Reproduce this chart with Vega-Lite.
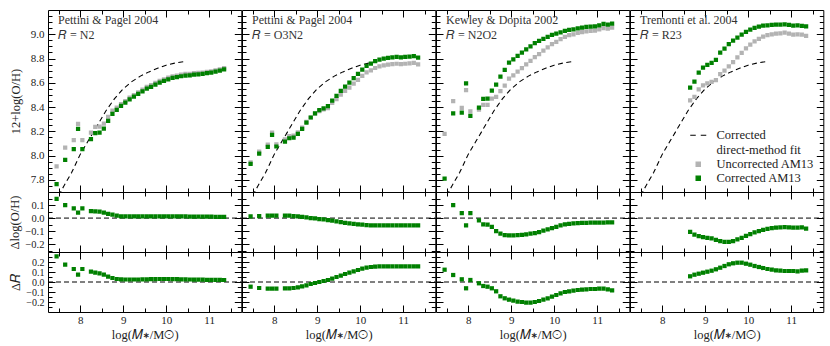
{
"$schema": "https://vega.github.io/schema/vega-lite/v6.json",
"padding": {"left": 8, "top": 9, "right": 6, "bottom": 4},
"config": {
 "view": {"stroke": "black", "strokeWidth": 1},
 "axis": {"domainColor": "black", "domainWidth": 1, "tickColor": "black", "tickWidth": 1, "labelFont": "Liberation Serif", "labelFontSize": 11, "labelColor": "#222", "titleFont": "Liberation Serif", "titleFontSize": 12.5, "titleFontWeight": "normal", "titleColor": "#222", "grid": false, "labelOverlap": false, "labelFlush": false, "labelBound": false},
 "title": {"font": "Liberation Serif", "fontSize": 12, "fontWeight": "normal", "color": "#333", "subtitleFont": "Liberation Serif", "subtitleFontSize": 12, "subtitleColor": "#333", "subtitlePadding": 0}
},
"datasets": {
 "fit": [{"m":7.5,"oh":7.67},{"m":7.62,"oh":7.75},{"m":7.8,"oh":7.86},{"m":8.0,"oh":8.01},{"m":8.2,"oh":8.13},{"m":8.4,"oh":8.25},{"m":8.6,"oh":8.37},{"m":8.8,"oh":8.47},{"m":9.0,"oh":8.55},{"m":9.2,"oh":8.61},{"m":9.4,"oh":8.655},{"m":9.6,"oh":8.69},{"m":9.8,"oh":8.72},{"m":10.0,"oh":8.745},{"m":10.2,"oh":8.762},{"m":10.42,"oh":8.775}],
 "blank": [{}],
 "pp04n2": [
{"m":7.45,"c":7.764,"u":7.912,"doh":0.148,"dr":0.257},
{"m":7.65,"c":7.965,"u":8.065,"doh":0.100,"dr":0.173},
{"m":7.85,"c":8.053,"u":8.127,"doh":0.074,"dr":0.130},
{"m":7.95,"c":8.220,"u":8.261,"doh":0.041,"dr":0.073},
{"m":8.05,"c":8.053,"u":8.127,"doh":0.074,"dr":0.130},
{"m":8.25,"c":8.135,"u":8.189,"doh":0.054,"dr":0.103},
{"m":8.35,"c":8.185,"u":8.236,"doh":0.051,"dr":0.093},
{"m":8.45,"c":8.190,"u":8.239,"doh":0.049,"dr":0.087},
{"m":8.55,"c":8.223,"u":8.264,"doh":0.041,"dr":0.073},
{"m":8.65,"c":8.286,"u":8.319,"doh":0.033,"dr":0.053},
{"m":8.75,"c":8.344,"u":8.370,"doh":0.026,"dr":0.040},
{"m":8.85,"c":8.377,"u":8.395,"doh":0.018,"dr":0.030},
{"m":8.95,"c":8.410,"u":8.424,"doh":0.014,"dr":0.027},
{"m":9.05,"c":8.437,"u":8.450,"doh":0.013,"dr":0.025},
{"m":9.15,"c":8.464,"u":8.477,"doh":0.013,"dr":0.025},
{"m":9.25,"c":8.486,"u":8.499,"doh":0.013,"dr":0.025},
{"m":9.35,"c":8.508,"u":8.521,"doh":0.013,"dr":0.025},
{"m":9.45,"c":8.530,"u":8.544,"doh":0.014,"dr":0.026},
{"m":9.55,"c":8.552,"u":8.566,"doh":0.014,"dr":0.027},
{"m":9.65,"c":8.566,"u":8.580,"doh":0.014,"dr":0.028},
{"m":9.75,"c":8.585,"u":8.599,"doh":0.014,"dr":0.029},
{"m":9.85,"c":8.602,"u":8.616,"doh":0.014,"dr":0.030},
{"m":9.95,"c":8.615,"u":8.629,"doh":0.014,"dr":0.030},
{"m":10.05,"c":8.629,"u":8.643,"doh":0.014,"dr":0.030},
{"m":10.15,"c":8.640,"u":8.654,"doh":0.014,"dr":0.029},
{"m":10.25,"c":8.646,"u":8.659,"doh":0.013,"dr":0.028},
{"m":10.35,"c":8.654,"u":8.667,"doh":0.013,"dr":0.027},
{"m":10.45,"c":8.660,"u":8.673,"doh":0.013,"dr":0.026},
{"m":10.55,"c":8.662,"u":8.674,"doh":0.012,"dr":0.025},
{"m":10.65,"c":8.668,"u":8.680,"doh":0.012,"dr":0.024},
{"m":10.75,"c":8.670,"u":8.682,"doh":0.012,"dr":0.023},
{"m":10.85,"c":8.673,"u":8.684,"doh":0.011,"dr":0.023},
{"m":10.95,"c":8.679,"u":8.690,"doh":0.011,"dr":0.022},
{"m":11.05,"c":8.684,"u":8.695,"doh":0.011,"dr":0.022},
{"m":11.15,"c":8.692,"u":8.702,"doh":0.010,"dr":0.021},
{"m":11.25,"c":8.700,"u":8.710,"doh":0.010,"dr":0.021},
{"m":11.35,"c":8.711,"u":8.721,"doh":0.010,"dr":0.020}],
 "pp04o3n2": [
{"m":7.45,"c":7.932,"u":7.945,"doh":0.013,"dr":-0.047},
{"m":7.65,"c":8.017,"u":8.032,"doh":0.015,"dr":-0.060},
{"m":7.85,"c":8.072,"u":8.090,"doh":0.018,"dr":-0.067},
{"m":7.95,"c":8.171,"u":8.189,"doh":0.018,"dr":-0.067},
{"m":8.05,"c":8.075,"u":8.093,"doh":0.018,"dr":-0.067},
{"m":8.25,"c":8.116,"u":8.134,"doh":0.018,"dr":-0.063},
{"m":8.35,"c":8.143,"u":8.161,"doh":0.018,"dr":-0.063},
{"m":8.45,"c":8.149,"u":8.164,"doh":0.015,"dr":-0.060},
{"m":8.55,"c":8.179,"u":8.192,"doh":0.013,"dr":-0.053},
{"m":8.65,"c":8.220,"u":8.230,"doh":0.010,"dr":-0.043},
{"m":8.75,"c":8.272,"u":8.277,"doh":0.005,"dr":-0.033},
{"m":8.85,"c":8.314,"u":8.314,"doh":0.000,"dr":-0.020},
{"m":8.95,"c":8.349,"u":8.346,"doh":-0.003,"dr":-0.010},
{"m":9.05,"c":8.374,"u":8.366,"doh":-0.008,"dr":0.000},
{"m":9.15,"c":8.390,"u":8.380,"doh":-0.010,"dr":0.010},
{"m":9.25,"c":8.407,"u":8.392,"doh":-0.015,"dr":0.020},
{"m":9.35,"c":8.454,"u":8.434,"doh":-0.020,"dr":0.033},
{"m":9.45,"c":8.492,"u":8.466,"doh":-0.026,"dr":0.050},
{"m":9.55,"c":8.533,"u":8.502,"doh":-0.031,"dr":0.063},
{"m":9.65,"c":8.569,"u":8.533,"doh":-0.036,"dr":0.080},
{"m":9.75,"c":8.602,"u":8.561,"doh":-0.041,"dr":0.093},
{"m":9.85,"c":8.638,"u":8.594,"doh":-0.044,"dr":0.107},
{"m":9.95,"c":8.673,"u":8.624,"doh":-0.049,"dr":0.120},
{"m":10.05,"c":8.709,"u":8.658,"doh":-0.051,"dr":0.133},
{"m":10.15,"c":8.739,"u":8.685,"doh":-0.054,"dr":0.143},
{"m":10.25,"c":8.758,"u":8.703,"doh":-0.055,"dr":0.150},
{"m":10.35,"c":8.778,"u":8.722,"doh":-0.056,"dr":0.153},
{"m":10.45,"c":8.791,"u":8.735,"doh":-0.056,"dr":0.156},
{"m":10.55,"c":8.800,"u":8.744,"doh":-0.056,"dr":0.157},
{"m":10.65,"c":8.805,"u":8.749,"doh":-0.056,"dr":0.157},
{"m":10.75,"c":8.810,"u":8.754,"doh":-0.056,"dr":0.157},
{"m":10.85,"c":8.813,"u":8.757,"doh":-0.056,"dr":0.157},
{"m":10.95,"c":8.810,"u":8.754,"doh":-0.056,"dr":0.157},
{"m":11.05,"c":8.813,"u":8.757,"doh":-0.056,"dr":0.157},
{"m":11.15,"c":8.816,"u":8.760,"doh":-0.056,"dr":0.157},
{"m":11.25,"c":8.820,"u":8.764,"doh":-0.056,"dr":0.157},
{"m":11.35,"c":8.808,"u":8.752,"doh":-0.056,"dr":0.157}],
 "kd02": [
{"m":7.45,"c":7.811,"u":8.179,"doh":0.368,"dr":0.123},
{"m":7.65,"c":8.349,"u":8.449,"doh":0.100,"dr":0.070},
{"m":7.85,"c":8.355,"u":8.393,"doh":0.038,"dr":0.027},
{"m":7.95,"c":8.596,"u":8.540,"doh":-0.056,"dr":-0.063},
{"m":8.05,"c":8.327,"u":8.365,"doh":0.038,"dr":0.020},
{"m":8.25,"c":8.396,"u":8.378,"doh":-0.018,"dr":-0.013},
{"m":8.35,"c":8.467,"u":8.418,"doh":-0.049,"dr":-0.040},
{"m":8.45,"c":8.470,"u":8.419,"doh":-0.051,"dr":-0.047},
{"m":8.55,"c":8.536,"u":8.469,"doh":-0.067,"dr":-0.063},
{"m":8.65,"c":8.585,"u":8.485,"doh":-0.100,"dr":-0.093},
{"m":8.75,"c":8.651,"u":8.531,"doh":-0.120,"dr":-0.143},
{"m":8.85,"c":8.706,"u":8.576,"doh":-0.130,"dr":-0.163},
{"m":8.95,"c":8.767,"u":8.634,"doh":-0.133,"dr":-0.177},
{"m":9.05,"c":8.794,"u":8.661,"doh":-0.133,"dr":-0.187},
{"m":9.15,"c":8.822,"u":8.692,"doh":-0.130,"dr":-0.197},
{"m":9.25,"c":8.849,"u":8.721,"doh":-0.128,"dr":-0.200},
{"m":9.35,"c":8.876,"u":8.751,"doh":-0.125,"dr":-0.207},
{"m":9.45,"c":8.901,"u":8.781,"doh":-0.120,"dr":-0.207},
{"m":9.55,"c":8.926,"u":8.811,"doh":-0.115,"dr":-0.200},
{"m":9.65,"c":8.945,"u":8.837,"doh":-0.108,"dr":-0.190},
{"m":9.75,"c":8.962,"u":8.865,"doh":-0.097,"dr":-0.177},
{"m":9.85,"c":8.978,"u":8.891,"doh":-0.087,"dr":-0.163},
{"m":9.95,"c":8.995,"u":8.918,"doh":-0.077,"dr":-0.147},
{"m":10.05,"c":9.005,"u":8.938,"doh":-0.067,"dr":-0.130},
{"m":10.15,"c":9.016,"u":8.960,"doh":-0.056,"dr":-0.113},
{"m":10.25,"c":9.027,"u":8.978,"doh":-0.049,"dr":-0.100},
{"m":10.35,"c":9.036,"u":8.992,"doh":-0.044,"dr":-0.093},
{"m":10.45,"c":9.041,"u":9.000,"doh":-0.041,"dr":-0.087},
{"m":10.55,"c":9.049,"u":9.011,"doh":-0.038,"dr":-0.080},
{"m":10.65,"c":9.055,"u":9.018,"doh":-0.037,"dr":-0.077},
{"m":10.75,"c":9.060,"u":9.024,"doh":-0.036,"dr":-0.073},
{"m":10.85,"c":9.063,"u":9.028,"doh":-0.035,"dr":-0.070},
{"m":10.95,"c":9.066,"u":9.031,"doh":-0.035,"dr":-0.070},
{"m":11.05,"c":9.074,"u":9.040,"doh":-0.034,"dr":-0.067},
{"m":11.15,"c":9.085,"u":9.051,"doh":-0.034,"dr":-0.067},
{"m":11.25,"c":9.080,"u":9.047,"doh":-0.033,"dr":-0.073},
{"m":11.35,"c":9.088,"u":9.055,"doh":-0.033,"dr":-0.083}],
 "t04": [
{"m":8.65,"c":8.561,"u":8.456,"doh":-0.105,"dr":0.057},
{"m":8.75,"c":8.610,"u":8.484,"doh":-0.126,"dr":0.073},
{"m":8.85,"c":8.684,"u":8.546,"doh":-0.138,"dr":0.083},
{"m":8.95,"c":8.725,"u":8.579,"doh":-0.146,"dr":0.093},
{"m":9.05,"c":8.747,"u":8.596,"doh":-0.151,"dr":0.103},
{"m":9.15,"c":8.764,"u":8.608,"doh":-0.156,"dr":0.113},
{"m":9.25,"c":8.789,"u":8.622,"doh":-0.167,"dr":0.127},
{"m":9.35,"c":8.849,"u":8.672,"doh":-0.177,"dr":0.143},
{"m":9.45,"c":8.882,"u":8.700,"doh":-0.182,"dr":0.160},
{"m":9.55,"c":8.918,"u":8.736,"doh":-0.182,"dr":0.177},
{"m":9.65,"c":8.948,"u":8.771,"doh":-0.177,"dr":0.187},
{"m":9.75,"c":8.973,"u":8.809,"doh":-0.164,"dr":0.193},
{"m":9.85,"c":8.997,"u":8.846,"doh":-0.151,"dr":0.193},
{"m":9.95,"c":9.019,"u":8.883,"doh":-0.136,"dr":0.183},
{"m":10.05,"c":9.038,"u":8.915,"doh":-0.123,"dr":0.173},
{"m":10.15,"c":9.052,"u":8.942,"doh":-0.110,"dr":0.160},
{"m":10.25,"c":9.063,"u":8.963,"doh":-0.100,"dr":0.150},
{"m":10.35,"c":9.071,"u":8.981,"doh":-0.090,"dr":0.140},
{"m":10.45,"c":9.074,"u":8.992,"doh":-0.082,"dr":0.130},
{"m":10.55,"c":9.077,"u":9.000,"doh":-0.077,"dr":0.123},
{"m":10.65,"c":9.080,"u":9.006,"doh":-0.074,"dr":0.117},
{"m":10.75,"c":9.080,"u":9.008,"doh":-0.072,"dr":0.113},
{"m":10.85,"c":9.082,"u":9.013,"doh":-0.069,"dr":0.110},
{"m":10.95,"c":9.077,"u":9.005,"doh":-0.072,"dr":0.110},
{"m":11.05,"c":9.071,"u":8.997,"doh":-0.074,"dr":0.110},
{"m":11.15,"c":9.074,"u":9.000,"doh":-0.074,"dr":0.107},
{"m":11.25,"c":9.069,"u":8.997,"doh":-0.072,"dr":0.113},
{"m":11.35,"c":9.066,"u":8.986,"doh":-0.080,"dr":0.117}]
},
"columns": 4,
"spacing": 0,
"bounds": "flush",
"align": "each",
"concat": [
{"width":193.3,"height":182,
 "title":{"text":"Pettini & Pagel 2004","subtitle":"𝑅 = N2","anchor":"start","frame":"group","orient":"top","offset":-32.5,"dx":10},
 "layer":[
  {"data":{"name":"fit"},"mark":{"type":"line","color":"black","strokeDash":[5,3.5],"strokeWidth":1.1,"clip":true},
   "encoding":{"x":{"field":"m","type":"quantitative","scale":{"domain":[7.25,11.75],"nice":false,"zero":false},"axis":{"orient":"bottom","values":[8,9,10,11],"tickSize":7,"offset":-7,"domain":false,"labels":false,"title":null}},
    "y":{"field":"oh","type":"quantitative","scale":{"domain":[7.7,9.2],"nice":false,"zero":false},"axis":{"orient":"left","values":[7.8,8.0,8.2,8.4,8.6,8.8,9.0],"tickSize":7,"offset":-7,"domain":false,"labels":false,"title":null}}}},
  {"data":{"name":"pp04n2"},"mark":{"type":"square","size":18,"opacity":1,"color":"#b3b3b3","clip":true},
   "encoding":{"x":{"field":"m","type":"quantitative","scale":{"domain":[7.25,11.75],"nice":false,"zero":false},"axis":{"orient":"bottom","values":[7.5,8.5,9.5,10.5,11.5],"tickSize":4,"offset":-4,"domain":false,"labels":false,"title":null}},
    "y":{"field":"u","type":"quantitative","scale":{"domain":[7.7,9.2],"nice":false,"zero":false},"axis":{"orient":"left","values":[7.75,7.85,7.9,7.95,8.05,8.1,8.15,8.25,8.3,8.35,8.45,8.5,8.55,8.65,8.7,8.75,8.85,8.9,8.95,9.05,9.1,9.15],"tickSize":4,"offset":-4,"domain":false,"labels":false,"title":null}}}},
  {"data":{"name":"pp04n2"},"mark":{"type":"square","size":18,"opacity":1,"color":"#008000","clip":true},
   "encoding":{"x":{"field":"m","type":"quantitative","scale":{"domain":[7.25,11.75],"nice":false,"zero":false},"axis":{"orient":"top","values":[8,9,10,11],"tickSize":7,"offset":-7,"domain":false,"labels":false,"title":null}},
    "y":{"field":"c","type":"quantitative","scale":{"domain":[7.7,9.2],"nice":false,"zero":false},"axis":{"orient":"right","values":[7.8,8.0,8.2,8.4,8.6,8.8,9.0],"tickSize":7,"offset":-7,"domain":false,"labels":false,"title":null}}}},
  {"data":{"name":"blank"},"mark":{"type":"point","opacity":0},
   "encoding":{"x":{"datum":9,"type":"quantitative","scale":{"domain":[7.25,11.75],"nice":false,"zero":false},"axis":{"orient":"top","values":[7.5,8.5,9.5,10.5,11.5],"tickSize":4,"offset":-4,"domain":false,"labels":false,"title":null}},
    "y":{"datum":8.5,"type":"quantitative","scale":{"domain":[7.7,9.2],"nice":false,"zero":false},"axis":{"orient":"right","values":[7.75,7.85,7.9,7.95,8.05,8.1,8.15,8.25,8.3,8.35,8.45,8.5,8.55,8.65,8.7,8.75,8.85,8.9,8.95,9.05,9.1,9.15],"tickSize":4,"offset":-4,"domain":false,"labels":false,"title":null}}}},
  {"data":{"name":"blank"},"mark":{"type":"point","opacity":0},
   "encoding":{"x":{"datum":9,"type":"quantitative","scale":{"domain":[7.25,11.75],"nice":false,"zero":false},"axis":null},
    "y":{"datum":8.5,"type":"quantitative","scale":{"domain":[7.7,9.2],"nice":false,"zero":false},"axis":{"orient":"left","values":[7.8,8.0,8.2,8.4,8.6,8.8,9.0],"ticks":false,"domain":false,"labelPadding":4,"format":".1f","title":"12+log(O/H)","titlePadding":8}}}}
 ],
 "resolve":{"axis":{"x":"independent","y":"independent"}}},
{"width":193.3,"height":182,
 "title":{"text":"Pettini & Pagel 2004","subtitle":"𝑅 = O3N2","anchor":"start","frame":"group","orient":"top","offset":-32.5,"dx":10},
 "layer":[
  {"data":{"name":"fit"},"mark":{"type":"line","color":"black","strokeDash":[5,3.5],"strokeWidth":1.1,"clip":true},
   "encoding":{"x":{"field":"m","type":"quantitative","scale":{"domain":[7.25,11.75],"nice":false,"zero":false},"axis":{"orient":"bottom","values":[8,9,10,11],"tickSize":7,"offset":-7,"domain":false,"labels":false,"title":null}},
    "y":{"field":"oh","type":"quantitative","scale":{"domain":[7.7,9.2],"nice":false,"zero":false},"axis":{"orient":"left","values":[7.8,8.0,8.2,8.4,8.6,8.8,9.0],"tickSize":7,"offset":-7,"domain":false,"labels":false,"title":null}}}},
  {"data":{"name":"pp04o3n2"},"mark":{"type":"square","size":18,"opacity":1,"color":"#b3b3b3","clip":true},
   "encoding":{"x":{"field":"m","type":"quantitative","scale":{"domain":[7.25,11.75],"nice":false,"zero":false},"axis":{"orient":"bottom","values":[7.5,8.5,9.5,10.5,11.5],"tickSize":4,"offset":-4,"domain":false,"labels":false,"title":null}},
    "y":{"field":"u","type":"quantitative","scale":{"domain":[7.7,9.2],"nice":false,"zero":false},"axis":{"orient":"left","values":[7.75,7.85,7.9,7.95,8.05,8.1,8.15,8.25,8.3,8.35,8.45,8.5,8.55,8.65,8.7,8.75,8.85,8.9,8.95,9.05,9.1,9.15],"tickSize":4,"offset":-4,"domain":false,"labels":false,"title":null}}}},
  {"data":{"name":"pp04o3n2"},"mark":{"type":"square","size":18,"opacity":1,"color":"#008000","clip":true},
   "encoding":{"x":{"field":"m","type":"quantitative","scale":{"domain":[7.25,11.75],"nice":false,"zero":false},"axis":{"orient":"top","values":[8,9,10,11],"tickSize":7,"offset":-7,"domain":false,"labels":false,"title":null}},
    "y":{"field":"c","type":"quantitative","scale":{"domain":[7.7,9.2],"nice":false,"zero":false},"axis":{"orient":"right","values":[7.8,8.0,8.2,8.4,8.6,8.8,9.0],"tickSize":7,"offset":-7,"domain":false,"labels":false,"title":null}}}},
  {"data":{"name":"blank"},"mark":{"type":"point","opacity":0},
   "encoding":{"x":{"datum":9,"type":"quantitative","scale":{"domain":[7.25,11.75],"nice":false,"zero":false},"axis":{"orient":"top","values":[7.5,8.5,9.5,10.5,11.5],"tickSize":4,"offset":-4,"domain":false,"labels":false,"title":null}},
    "y":{"datum":8.5,"type":"quantitative","scale":{"domain":[7.7,9.2],"nice":false,"zero":false},"axis":{"orient":"right","values":[7.75,7.85,7.9,7.95,8.05,8.1,8.15,8.25,8.3,8.35,8.45,8.5,8.55,8.65,8.7,8.75,8.85,8.9,8.95,9.05,9.1,9.15],"tickSize":4,"offset":-4,"domain":false,"labels":false,"title":null}}}}
 ],
 "resolve":{"axis":{"x":"independent","y":"independent"}}},
{"width":193.3,"height":182,
 "title":{"text":"Kewley & Dopita 2002","subtitle":"𝑅 = N2O2","anchor":"start","frame":"group","orient":"top","offset":-32.5,"dx":10},
 "layer":[
  {"data":{"name":"fit"},"mark":{"type":"line","color":"black","strokeDash":[5,3.5],"strokeWidth":1.1,"clip":true},
   "encoding":{"x":{"field":"m","type":"quantitative","scale":{"domain":[7.25,11.75],"nice":false,"zero":false},"axis":{"orient":"bottom","values":[8,9,10,11],"tickSize":7,"offset":-7,"domain":false,"labels":false,"title":null}},
    "y":{"field":"oh","type":"quantitative","scale":{"domain":[7.7,9.2],"nice":false,"zero":false},"axis":{"orient":"left","values":[7.8,8.0,8.2,8.4,8.6,8.8,9.0],"tickSize":7,"offset":-7,"domain":false,"labels":false,"title":null}}}},
  {"data":{"name":"kd02"},"mark":{"type":"square","size":18,"opacity":1,"color":"#b3b3b3","clip":true},
   "encoding":{"x":{"field":"m","type":"quantitative","scale":{"domain":[7.25,11.75],"nice":false,"zero":false},"axis":{"orient":"bottom","values":[7.5,8.5,9.5,10.5,11.5],"tickSize":4,"offset":-4,"domain":false,"labels":false,"title":null}},
    "y":{"field":"u","type":"quantitative","scale":{"domain":[7.7,9.2],"nice":false,"zero":false},"axis":{"orient":"left","values":[7.75,7.85,7.9,7.95,8.05,8.1,8.15,8.25,8.3,8.35,8.45,8.5,8.55,8.65,8.7,8.75,8.85,8.9,8.95,9.05,9.1,9.15],"tickSize":4,"offset":-4,"domain":false,"labels":false,"title":null}}}},
  {"data":{"name":"kd02"},"mark":{"type":"square","size":18,"opacity":1,"color":"#008000","clip":true},
   "encoding":{"x":{"field":"m","type":"quantitative","scale":{"domain":[7.25,11.75],"nice":false,"zero":false},"axis":{"orient":"top","values":[8,9,10,11],"tickSize":7,"offset":-7,"domain":false,"labels":false,"title":null}},
    "y":{"field":"c","type":"quantitative","scale":{"domain":[7.7,9.2],"nice":false,"zero":false},"axis":{"orient":"right","values":[7.8,8.0,8.2,8.4,8.6,8.8,9.0],"tickSize":7,"offset":-7,"domain":false,"labels":false,"title":null}}}},
  {"data":{"name":"blank"},"mark":{"type":"point","opacity":0},
   "encoding":{"x":{"datum":9,"type":"quantitative","scale":{"domain":[7.25,11.75],"nice":false,"zero":false},"axis":{"orient":"top","values":[7.5,8.5,9.5,10.5,11.5],"tickSize":4,"offset":-4,"domain":false,"labels":false,"title":null}},
    "y":{"datum":8.5,"type":"quantitative","scale":{"domain":[7.7,9.2],"nice":false,"zero":false},"axis":{"orient":"right","values":[7.75,7.85,7.9,7.95,8.05,8.1,8.15,8.25,8.3,8.35,8.45,8.5,8.55,8.65,8.7,8.75,8.85,8.9,8.95,9.05,9.1,9.15],"tickSize":4,"offset":-4,"domain":false,"labels":false,"title":null}}}}
 ],
 "resolve":{"axis":{"x":"independent","y":"independent"}}},
{"width":193.3,"height":182,
 "title":{"text":"Tremonti et al. 2004","subtitle":"𝑅 = R23","anchor":"start","frame":"group","orient":"top","offset":-32.5,"dx":10},
 "layer":[
  {"data":{"name":"fit"},"mark":{"type":"line","strokeDash":[5,3.5],"strokeWidth":1.1,"clip":true},
   "encoding":{"x":{"field":"m","type":"quantitative","scale":{"domain":[7.25,11.75],"nice":false,"zero":false},"axis":{"orient":"bottom","values":[8,9,10,11],"tickSize":7,"offset":-7,"domain":false,"labels":false,"title":null}},
    "y":{"field":"oh","type":"quantitative","scale":{"domain":[7.7,9.2],"nice":false,"zero":false},"axis":{"orient":"left","values":[7.8,8.0,8.2,8.4,8.6,8.8,9.0],"tickSize":7,"offset":-7,"domain":false,"labels":false,"title":null}},
    "color":{"datum":"Corrected direct-method fit","scale":{"domain":["Corrected direct-method fit","Uncorrected AM13","Corrected AM13"],"range":["black","#b3b3b3","#008000"]},
     "legend":{"orient":"none","legendX":644,"legendY":119,"title":null,"padding":0,"labelFont":"Liberation Serif","labelFontSize":12.5,"labelColor":"#222","labelOffset":12,"labelLimit":300,"rowPadding":1,"symbolSize":100,"symbolStrokeWidth":1.2,
      "labelExpr":"datum.label === 'Corrected direct-method fit' ? ['Corrected', 'direct-method fit'] : datum.label",
      "encode":{"symbols":{"update":{"shape":{"signal":"datum.value === 'Corrected direct-method fit' ? 'M-1.6,0H-0.5M0.5,0H1.6' : 'M-0.43,-0.43H0.43V0.43H-0.43Z'"},"fill":{"signal":"datum.value === 'Uncorrected AM13' ? '#b3b3b3' : (datum.value === 'Corrected AM13' ? '#008000' : 'transparent')"},"stroke":{"signal":"datum.value === 'Corrected direct-method fit' ? 'black' : 'transparent'"},"strokeDash":{"value":[]},"opacity":{"value":1}}}}}}}},
  {"data":{"name":"t04"},"mark":{"type":"square","size":18,"opacity":1,"clip":true},
   "encoding":{"x":{"field":"m","type":"quantitative","scale":{"domain":[7.25,11.75],"nice":false,"zero":false},"axis":{"orient":"bottom","values":[7.5,8.5,9.5,10.5,11.5],"tickSize":4,"offset":-4,"domain":false,"labels":false,"title":null}},
    "y":{"field":"u","type":"quantitative","scale":{"domain":[7.7,9.2],"nice":false,"zero":false},"axis":{"orient":"left","values":[7.75,7.85,7.9,7.95,8.05,8.1,8.15,8.25,8.3,8.35,8.45,8.5,8.55,8.65,8.7,8.75,8.85,8.9,8.95,9.05,9.1,9.15],"tickSize":4,"offset":-4,"domain":false,"labels":false,"title":null}},
    "color":{"datum":"Uncorrected AM13"}}},
  {"data":{"name":"t04"},"mark":{"type":"square","size":18,"opacity":1,"clip":true},
   "encoding":{"x":{"field":"m","type":"quantitative","scale":{"domain":[7.25,11.75],"nice":false,"zero":false},"axis":{"orient":"top","values":[8,9,10,11],"tickSize":7,"offset":-7,"domain":false,"labels":false,"title":null}},
    "y":{"field":"c","type":"quantitative","scale":{"domain":[7.7,9.2],"nice":false,"zero":false},"axis":{"orient":"right","values":[7.8,8.0,8.2,8.4,8.6,8.8,9.0],"tickSize":7,"offset":-7,"domain":false,"labels":false,"title":null}},
    "color":{"datum":"Corrected AM13"}}},
  {"data":{"name":"blank"},"mark":{"type":"point","opacity":0},
   "encoding":{"x":{"datum":9,"type":"quantitative","scale":{"domain":[7.25,11.75],"nice":false,"zero":false},"axis":{"orient":"top","values":[7.5,8.5,9.5,10.5,11.5],"tickSize":4,"offset":-4,"domain":false,"labels":false,"title":null}},
    "y":{"datum":8.5,"type":"quantitative","scale":{"domain":[7.7,9.2],"nice":false,"zero":false},"axis":{"orient":"right","values":[7.75,7.85,7.9,7.95,8.05,8.1,8.15,8.25,8.3,8.35,8.45,8.5,8.55,8.65,8.7,8.75,8.85,8.9,8.95,9.05,9.1,9.15],"tickSize":4,"offset":-4,"domain":false,"labels":false,"title":null}}}}
 ],
 "resolve":{"axis":{"x":"independent","y":"independent"}}},

{"width":193.3,"height":60,
 "layer":[
  {"data":{"name":"blank"},"mark":{"type":"rule","color":"black","strokeDash":[5,3],"strokeWidth":1},
   "encoding":{"x":{"datum":7.25,"type":"quantitative","scale":{"domain":[7.25,11.75],"nice":false,"zero":false},"axis":{"orient":"top","values":[8,9,10,11],"tickSize":7,"offset":-7,"domain":false,"labels":false,"title":null}},"x2":{"datum":11.75},
    "y":{"datum":0,"type":"quantitative","scale":{"domain":[-0.26,0.2],"nice":false,"zero":false},"axis":{"orient":"left","values":[-0.2,-0.1,0,0.1],"tickSize":7,"offset":-7,"domain":false,"labels":false,"title":null}}}},
  {"data":{"name":"pp04n2"},"mark":{"type":"square","size":18,"opacity":1,"color":"#008000","clip":true},
   "encoding":{"x":{"field":"m","type":"quantitative","scale":{"domain":[7.25,11.75],"nice":false,"zero":false},"axis":{"orient":"bottom","values":[8,9,10,11],"tickSize":7,"offset":-7,"domain":false,"labels":false,"title":null}},
    "y":{"field":"doh","type":"quantitative","scale":{"domain":[-0.26,0.2],"nice":false,"zero":false},"axis":{"orient":"right","values":[-0.2,-0.1,0,0.1],"tickSize":7,"offset":-7,"domain":false,"labels":false,"title":null}}}},
  {"data":{"name":"blank"},"mark":{"type":"point","opacity":0},
   "encoding":{"x":{"datum":9,"type":"quantitative","scale":{"domain":[7.25,11.75],"nice":false,"zero":false},"axis":{"orient":"bottom","values":[7.5,8.5,9.5,10.5,11.5],"tickSize":4,"offset":-4,"domain":false,"labels":false,"title":null}},
    "y":{"datum":0,"type":"quantitative","scale":{"domain":[-0.26,0.2],"nice":false,"zero":false},"axis":{"orient":"left","values":[-0.25,-0.15,-0.05,0.05,0.15],"tickSize":4,"offset":-4,"domain":false,"labels":false,"title":null}}}},
  {"data":{"name":"blank"},"mark":{"type":"point","opacity":0},
   "encoding":{"x":{"datum":9,"type":"quantitative","scale":{"domain":[7.25,11.75],"nice":false,"zero":false},"axis":{"orient":"top","values":[7.5,8.5,9.5,10.5,11.5],"tickSize":4,"offset":-4,"domain":false,"labels":false,"title":null}},
    "y":{"datum":0,"type":"quantitative","scale":{"domain":[-0.26,0.2],"nice":false,"zero":false},"axis":{"orient":"right","values":[-0.25,-0.15,-0.05,0.05,0.15],"tickSize":4,"offset":-4,"domain":false,"labels":false,"title":null}}}},
  {"data":{"name":"blank"},"mark":{"type":"point","opacity":0},
   "encoding":{"x":{"datum":9,"type":"quantitative","scale":{"domain":[7.25,11.75],"nice":false,"zero":false},"axis":null},
    "y":{"datum":0,"type":"quantitative","scale":{"domain":[-0.26,0.2],"nice":false,"zero":false},"axis":{"orient":"left","values":[-0.2,-0.1,0,0.1],"ticks":false,"domain":false,"labelPadding":4,"labelFontSize":10.5,"format":".1f","title":"Δlog(O/H)","titlePadding":3}}}}
 ],
 "resolve":{"axis":{"x":"independent","y":"independent"}}},
{"width":193.3,"height":60,
 "layer":[
  {"data":{"name":"blank"},"mark":{"type":"rule","color":"black","strokeDash":[5,3],"strokeWidth":1},
   "encoding":{"x":{"datum":7.25,"type":"quantitative","scale":{"domain":[7.25,11.75],"nice":false,"zero":false},"axis":{"orient":"top","values":[8,9,10,11],"tickSize":7,"offset":-7,"domain":false,"labels":false,"title":null}},"x2":{"datum":11.75},
    "y":{"datum":0,"type":"quantitative","scale":{"domain":[-0.26,0.2],"nice":false,"zero":false},"axis":{"orient":"left","values":[-0.2,-0.1,0,0.1],"tickSize":7,"offset":-7,"domain":false,"labels":false,"title":null}}}},
  {"data":{"name":"pp04o3n2"},"mark":{"type":"square","size":18,"opacity":1,"color":"#008000","clip":true},
   "encoding":{"x":{"field":"m","type":"quantitative","scale":{"domain":[7.25,11.75],"nice":false,"zero":false},"axis":{"orient":"bottom","values":[8,9,10,11],"tickSize":7,"offset":-7,"domain":false,"labels":false,"title":null}},
    "y":{"field":"doh","type":"quantitative","scale":{"domain":[-0.26,0.2],"nice":false,"zero":false},"axis":{"orient":"right","values":[-0.2,-0.1,0,0.1],"tickSize":7,"offset":-7,"domain":false,"labels":false,"title":null}}}},
  {"data":{"name":"blank"},"mark":{"type":"point","opacity":0},
   "encoding":{"x":{"datum":9,"type":"quantitative","scale":{"domain":[7.25,11.75],"nice":false,"zero":false},"axis":{"orient":"bottom","values":[7.5,8.5,9.5,10.5,11.5],"tickSize":4,"offset":-4,"domain":false,"labels":false,"title":null}},
    "y":{"datum":0,"type":"quantitative","scale":{"domain":[-0.26,0.2],"nice":false,"zero":false},"axis":{"orient":"left","values":[-0.25,-0.15,-0.05,0.05,0.15],"tickSize":4,"offset":-4,"domain":false,"labels":false,"title":null}}}},
  {"data":{"name":"blank"},"mark":{"type":"point","opacity":0},
   "encoding":{"x":{"datum":9,"type":"quantitative","scale":{"domain":[7.25,11.75],"nice":false,"zero":false},"axis":{"orient":"top","values":[7.5,8.5,9.5,10.5,11.5],"tickSize":4,"offset":-4,"domain":false,"labels":false,"title":null}},
    "y":{"datum":0,"type":"quantitative","scale":{"domain":[-0.26,0.2],"nice":false,"zero":false},"axis":{"orient":"right","values":[-0.25,-0.15,-0.05,0.05,0.15],"tickSize":4,"offset":-4,"domain":false,"labels":false,"title":null}}}}
 ],
 "resolve":{"axis":{"x":"independent","y":"independent"}}},
{"width":193.3,"height":60,
 "layer":[
  {"data":{"name":"blank"},"mark":{"type":"rule","color":"black","strokeDash":[5,3],"strokeWidth":1},
   "encoding":{"x":{"datum":7.25,"type":"quantitative","scale":{"domain":[7.25,11.75],"nice":false,"zero":false},"axis":{"orient":"top","values":[8,9,10,11],"tickSize":7,"offset":-7,"domain":false,"labels":false,"title":null}},"x2":{"datum":11.75},
    "y":{"datum":0,"type":"quantitative","scale":{"domain":[-0.26,0.2],"nice":false,"zero":false},"axis":{"orient":"left","values":[-0.2,-0.1,0,0.1],"tickSize":7,"offset":-7,"domain":false,"labels":false,"title":null}}}},
  {"data":{"name":"kd02"},"mark":{"type":"square","size":18,"opacity":1,"color":"#008000","clip":true},
   "encoding":{"x":{"field":"m","type":"quantitative","scale":{"domain":[7.25,11.75],"nice":false,"zero":false},"axis":{"orient":"bottom","values":[8,9,10,11],"tickSize":7,"offset":-7,"domain":false,"labels":false,"title":null}},
    "y":{"field":"doh","type":"quantitative","scale":{"domain":[-0.26,0.2],"nice":false,"zero":false},"axis":{"orient":"right","values":[-0.2,-0.1,0,0.1],"tickSize":7,"offset":-7,"domain":false,"labels":false,"title":null}}}},
  {"data":{"name":"blank"},"mark":{"type":"point","opacity":0},
   "encoding":{"x":{"datum":9,"type":"quantitative","scale":{"domain":[7.25,11.75],"nice":false,"zero":false},"axis":{"orient":"bottom","values":[7.5,8.5,9.5,10.5,11.5],"tickSize":4,"offset":-4,"domain":false,"labels":false,"title":null}},
    "y":{"datum":0,"type":"quantitative","scale":{"domain":[-0.26,0.2],"nice":false,"zero":false},"axis":{"orient":"left","values":[-0.25,-0.15,-0.05,0.05,0.15],"tickSize":4,"offset":-4,"domain":false,"labels":false,"title":null}}}},
  {"data":{"name":"blank"},"mark":{"type":"point","opacity":0},
   "encoding":{"x":{"datum":9,"type":"quantitative","scale":{"domain":[7.25,11.75],"nice":false,"zero":false},"axis":{"orient":"top","values":[7.5,8.5,9.5,10.5,11.5],"tickSize":4,"offset":-4,"domain":false,"labels":false,"title":null}},
    "y":{"datum":0,"type":"quantitative","scale":{"domain":[-0.26,0.2],"nice":false,"zero":false},"axis":{"orient":"right","values":[-0.25,-0.15,-0.05,0.05,0.15],"tickSize":4,"offset":-4,"domain":false,"labels":false,"title":null}}}}
 ],
 "resolve":{"axis":{"x":"independent","y":"independent"}}},
{"width":193.3,"height":60,
 "layer":[
  {"data":{"name":"blank"},"mark":{"type":"rule","color":"black","strokeDash":[5,3],"strokeWidth":1},
   "encoding":{"x":{"datum":7.25,"type":"quantitative","scale":{"domain":[7.25,11.75],"nice":false,"zero":false},"axis":{"orient":"top","values":[8,9,10,11],"tickSize":7,"offset":-7,"domain":false,"labels":false,"title":null}},"x2":{"datum":11.75},
    "y":{"datum":0,"type":"quantitative","scale":{"domain":[-0.26,0.2],"nice":false,"zero":false},"axis":{"orient":"left","values":[-0.2,-0.1,0,0.1],"tickSize":7,"offset":-7,"domain":false,"labels":false,"title":null}}}},
  {"data":{"name":"t04"},"mark":{"type":"square","size":18,"opacity":1,"color":"#008000","clip":true},
   "encoding":{"x":{"field":"m","type":"quantitative","scale":{"domain":[7.25,11.75],"nice":false,"zero":false},"axis":{"orient":"bottom","values":[8,9,10,11],"tickSize":7,"offset":-7,"domain":false,"labels":false,"title":null}},
    "y":{"field":"doh","type":"quantitative","scale":{"domain":[-0.26,0.2],"nice":false,"zero":false},"axis":{"orient":"right","values":[-0.2,-0.1,0,0.1],"tickSize":7,"offset":-7,"domain":false,"labels":false,"title":null}}}},
  {"data":{"name":"blank"},"mark":{"type":"point","opacity":0},
   "encoding":{"x":{"datum":9,"type":"quantitative","scale":{"domain":[7.25,11.75],"nice":false,"zero":false},"axis":{"orient":"bottom","values":[7.5,8.5,9.5,10.5,11.5],"tickSize":4,"offset":-4,"domain":false,"labels":false,"title":null}},
    "y":{"datum":0,"type":"quantitative","scale":{"domain":[-0.26,0.2],"nice":false,"zero":false},"axis":{"orient":"left","values":[-0.25,-0.15,-0.05,0.05,0.15],"tickSize":4,"offset":-4,"domain":false,"labels":false,"title":null}}}},
  {"data":{"name":"blank"},"mark":{"type":"point","opacity":0},
   "encoding":{"x":{"datum":9,"type":"quantitative","scale":{"domain":[7.25,11.75],"nice":false,"zero":false},"axis":{"orient":"top","values":[7.5,8.5,9.5,10.5,11.5],"tickSize":4,"offset":-4,"domain":false,"labels":false,"title":null}},
    "y":{"datum":0,"type":"quantitative","scale":{"domain":[-0.26,0.2],"nice":false,"zero":false},"axis":{"orient":"right","values":[-0.25,-0.15,-0.05,0.05,0.15],"tickSize":4,"offset":-4,"domain":false,"labels":false,"title":null}}}}
 ],
 "resolve":{"axis":{"x":"independent","y":"independent"}}},

{"width":193.3,"height":60,
 "layer":[
  {"data":{"name":"blank"},"mark":{"type":"rule","color":"black","strokeDash":[5,3],"strokeWidth":1},
   "encoding":{"x":{"datum":7.25,"type":"quantitative","scale":{"domain":[7.25,11.75],"nice":false,"zero":false},"axis":{"orient":"top","values":[8,9,10,11],"tickSize":7,"offset":-7,"domain":false,"labels":false,"title":null}},"x2":{"datum":11.75},
    "y":{"datum":0,"type":"quantitative","scale":{"domain":[-0.3,0.3],"nice":false,"zero":false},"axis":{"orient":"left","values":[-0.2,-0.1,0,0.1,0.2],"tickSize":7,"offset":-7,"domain":false,"labels":false,"title":null}}}},
  {"data":{"name":"pp04n2"},"mark":{"type":"square","size":18,"opacity":1,"color":"#008000","clip":true},
   "encoding":{"x":{"field":"m","type":"quantitative","scale":{"domain":[7.25,11.75],"nice":false,"zero":false},"axis":{"orient":"bottom","values":[8,9,10,11],"tickSize":7,"offset":-7,"domain":false,"labels":false,"title":null}},
    "y":{"field":"dr","type":"quantitative","scale":{"domain":[-0.3,0.3],"nice":false,"zero":false},"axis":{"orient":"right","values":[-0.2,-0.1,0,0.1,0.2],"tickSize":7,"offset":-7,"domain":false,"labels":false,"title":null}}}},
  {"data":{"name":"blank"},"mark":{"type":"point","opacity":0},
   "encoding":{"x":{"datum":9,"type":"quantitative","scale":{"domain":[7.25,11.75],"nice":false,"zero":false},"axis":{"orient":"bottom","values":[7.5,8.5,9.5,10.5,11.5],"tickSize":4,"offset":-4,"domain":false,"labels":false,"title":null}},
    "y":{"datum":0,"type":"quantitative","scale":{"domain":[-0.3,0.3],"nice":false,"zero":false},"axis":{"orient":"left","values":[-0.25,-0.15,-0.05,0.05,0.15,0.25],"tickSize":4,"offset":-4,"domain":false,"labels":false,"title":null}}}},
  {"data":{"name":"blank"},"mark":{"type":"point","opacity":0},
   "encoding":{"x":{"datum":9,"type":"quantitative","scale":{"domain":[7.25,11.75],"nice":false,"zero":false},"axis":{"orient":"top","values":[7.5,8.5,9.5,10.5,11.5],"tickSize":4,"offset":-4,"domain":false,"labels":false,"title":null}},
    "y":{"datum":0,"type":"quantitative","scale":{"domain":[-0.3,0.3],"nice":false,"zero":false},"axis":{"orient":"right","values":[-0.25,-0.15,-0.05,0.05,0.15,0.25],"tickSize":4,"offset":-4,"domain":false,"labels":false,"title":null}}}},
  {"data":{"name":"blank"},"mark":{"type":"point","opacity":0},
   "encoding":{"x":{"datum":9,"type":"quantitative","scale":{"domain":[7.25,11.75],"nice":false,"zero":false},"axis":{"orient":"bottom","values":[8,9,10,11],"ticks":false,"domain":false,"labelPadding":2,"format":"d","title":"log(𝑀∗/M⊙)","titlePadding":3}},
    "y":{"datum":0,"type":"quantitative","scale":{"domain":[-0.3,0.3],"nice":false,"zero":false},"axis":{"orient":"left","values":[-0.2,-0.1,0,0.1,0.2],"ticks":false,"domain":false,"labelPadding":4,"labelFontSize":10,"format":".1f","title":"Δ𝑅","titlePadding":3}}}}
 ],
 "resolve":{"axis":{"x":"independent","y":"independent"}}},
{"width":193.3,"height":60,
 "layer":[
  {"data":{"name":"blank"},"mark":{"type":"rule","color":"black","strokeDash":[5,3],"strokeWidth":1},
   "encoding":{"x":{"datum":7.25,"type":"quantitative","scale":{"domain":[7.25,11.75],"nice":false,"zero":false},"axis":{"orient":"top","values":[8,9,10,11],"tickSize":7,"offset":-7,"domain":false,"labels":false,"title":null}},"x2":{"datum":11.75},
    "y":{"datum":0,"type":"quantitative","scale":{"domain":[-0.3,0.3],"nice":false,"zero":false},"axis":{"orient":"left","values":[-0.2,-0.1,0,0.1,0.2],"tickSize":7,"offset":-7,"domain":false,"labels":false,"title":null}}}},
  {"data":{"name":"pp04o3n2"},"mark":{"type":"square","size":18,"opacity":1,"color":"#008000","clip":true},
   "encoding":{"x":{"field":"m","type":"quantitative","scale":{"domain":[7.25,11.75],"nice":false,"zero":false},"axis":{"orient":"bottom","values":[8,9,10,11],"tickSize":7,"offset":-7,"domain":false,"labels":false,"title":null}},
    "y":{"field":"dr","type":"quantitative","scale":{"domain":[-0.3,0.3],"nice":false,"zero":false},"axis":{"orient":"right","values":[-0.2,-0.1,0,0.1,0.2],"tickSize":7,"offset":-7,"domain":false,"labels":false,"title":null}}}},
  {"data":{"name":"blank"},"mark":{"type":"point","opacity":0},
   "encoding":{"x":{"datum":9,"type":"quantitative","scale":{"domain":[7.25,11.75],"nice":false,"zero":false},"axis":{"orient":"bottom","values":[7.5,8.5,9.5,10.5,11.5],"tickSize":4,"offset":-4,"domain":false,"labels":false,"title":null}},
    "y":{"datum":0,"type":"quantitative","scale":{"domain":[-0.3,0.3],"nice":false,"zero":false},"axis":{"orient":"left","values":[-0.25,-0.15,-0.05,0.05,0.15,0.25],"tickSize":4,"offset":-4,"domain":false,"labels":false,"title":null}}}},
  {"data":{"name":"blank"},"mark":{"type":"point","opacity":0},
   "encoding":{"x":{"datum":9,"type":"quantitative","scale":{"domain":[7.25,11.75],"nice":false,"zero":false},"axis":{"orient":"top","values":[7.5,8.5,9.5,10.5,11.5],"tickSize":4,"offset":-4,"domain":false,"labels":false,"title":null}},
    "y":{"datum":0,"type":"quantitative","scale":{"domain":[-0.3,0.3],"nice":false,"zero":false},"axis":{"orient":"right","values":[-0.25,-0.15,-0.05,0.05,0.15,0.25],"tickSize":4,"offset":-4,"domain":false,"labels":false,"title":null}}}},
  {"data":{"name":"blank"},"mark":{"type":"point","opacity":0},
   "encoding":{"x":{"datum":9,"type":"quantitative","scale":{"domain":[7.25,11.75],"nice":false,"zero":false},"axis":{"orient":"bottom","values":[8,9,10,11],"ticks":false,"domain":false,"labelPadding":2,"format":"d","title":"log(𝑀∗/M⊙)","titlePadding":3}},
    "y":{"datum":0,"type":"quantitative","scale":{"domain":[-0.3,0.3],"nice":false,"zero":false},"axis":null}}}
 ],
 "resolve":{"axis":{"x":"independent","y":"independent"}}},
{"width":193.3,"height":60,
 "layer":[
  {"data":{"name":"blank"},"mark":{"type":"rule","color":"black","strokeDash":[5,3],"strokeWidth":1},
   "encoding":{"x":{"datum":7.25,"type":"quantitative","scale":{"domain":[7.25,11.75],"nice":false,"zero":false},"axis":{"orient":"top","values":[8,9,10,11],"tickSize":7,"offset":-7,"domain":false,"labels":false,"title":null}},"x2":{"datum":11.75},
    "y":{"datum":0,"type":"quantitative","scale":{"domain":[-0.3,0.3],"nice":false,"zero":false},"axis":{"orient":"left","values":[-0.2,-0.1,0,0.1,0.2],"tickSize":7,"offset":-7,"domain":false,"labels":false,"title":null}}}},
  {"data":{"name":"kd02"},"mark":{"type":"square","size":18,"opacity":1,"color":"#008000","clip":true},
   "encoding":{"x":{"field":"m","type":"quantitative","scale":{"domain":[7.25,11.75],"nice":false,"zero":false},"axis":{"orient":"bottom","values":[8,9,10,11],"tickSize":7,"offset":-7,"domain":false,"labels":false,"title":null}},
    "y":{"field":"dr","type":"quantitative","scale":{"domain":[-0.3,0.3],"nice":false,"zero":false},"axis":{"orient":"right","values":[-0.2,-0.1,0,0.1,0.2],"tickSize":7,"offset":-7,"domain":false,"labels":false,"title":null}}}},
  {"data":{"name":"blank"},"mark":{"type":"point","opacity":0},
   "encoding":{"x":{"datum":9,"type":"quantitative","scale":{"domain":[7.25,11.75],"nice":false,"zero":false},"axis":{"orient":"bottom","values":[7.5,8.5,9.5,10.5,11.5],"tickSize":4,"offset":-4,"domain":false,"labels":false,"title":null}},
    "y":{"datum":0,"type":"quantitative","scale":{"domain":[-0.3,0.3],"nice":false,"zero":false},"axis":{"orient":"left","values":[-0.25,-0.15,-0.05,0.05,0.15,0.25],"tickSize":4,"offset":-4,"domain":false,"labels":false,"title":null}}}},
  {"data":{"name":"blank"},"mark":{"type":"point","opacity":0},
   "encoding":{"x":{"datum":9,"type":"quantitative","scale":{"domain":[7.25,11.75],"nice":false,"zero":false},"axis":{"orient":"top","values":[7.5,8.5,9.5,10.5,11.5],"tickSize":4,"offset":-4,"domain":false,"labels":false,"title":null}},
    "y":{"datum":0,"type":"quantitative","scale":{"domain":[-0.3,0.3],"nice":false,"zero":false},"axis":{"orient":"right","values":[-0.25,-0.15,-0.05,0.05,0.15,0.25],"tickSize":4,"offset":-4,"domain":false,"labels":false,"title":null}}}},
  {"data":{"name":"blank"},"mark":{"type":"point","opacity":0},
   "encoding":{"x":{"datum":9,"type":"quantitative","scale":{"domain":[7.25,11.75],"nice":false,"zero":false},"axis":{"orient":"bottom","values":[8,9,10,11],"ticks":false,"domain":false,"labelPadding":2,"format":"d","title":"log(𝑀∗/M⊙)","titlePadding":3}},
    "y":{"datum":0,"type":"quantitative","scale":{"domain":[-0.3,0.3],"nice":false,"zero":false},"axis":null}}}
 ],
 "resolve":{"axis":{"x":"independent","y":"independent"}}},
{"width":193.3,"height":60,
 "layer":[
  {"data":{"name":"blank"},"mark":{"type":"rule","color":"black","strokeDash":[5,3],"strokeWidth":1},
   "encoding":{"x":{"datum":7.25,"type":"quantitative","scale":{"domain":[7.25,11.75],"nice":false,"zero":false},"axis":{"orient":"top","values":[8,9,10,11],"tickSize":7,"offset":-7,"domain":false,"labels":false,"title":null}},"x2":{"datum":11.75},
    "y":{"datum":0,"type":"quantitative","scale":{"domain":[-0.3,0.3],"nice":false,"zero":false},"axis":{"orient":"left","values":[-0.2,-0.1,0,0.1,0.2],"tickSize":7,"offset":-7,"domain":false,"labels":false,"title":null}}}},
  {"data":{"name":"t04"},"mark":{"type":"square","size":18,"opacity":1,"color":"#008000","clip":true},
   "encoding":{"x":{"field":"m","type":"quantitative","scale":{"domain":[7.25,11.75],"nice":false,"zero":false},"axis":{"orient":"bottom","values":[8,9,10,11],"tickSize":7,"offset":-7,"domain":false,"labels":false,"title":null}},
    "y":{"field":"dr","type":"quantitative","scale":{"domain":[-0.3,0.3],"nice":false,"zero":false},"axis":{"orient":"right","values":[-0.2,-0.1,0,0.1,0.2],"tickSize":7,"offset":-7,"domain":false,"labels":false,"title":null}}}},
  {"data":{"name":"blank"},"mark":{"type":"point","opacity":0},
   "encoding":{"x":{"datum":9,"type":"quantitative","scale":{"domain":[7.25,11.75],"nice":false,"zero":false},"axis":{"orient":"bottom","values":[7.5,8.5,9.5,10.5,11.5],"tickSize":4,"offset":-4,"domain":false,"labels":false,"title":null}},
    "y":{"datum":0,"type":"quantitative","scale":{"domain":[-0.3,0.3],"nice":false,"zero":false},"axis":{"orient":"left","values":[-0.25,-0.15,-0.05,0.05,0.15,0.25],"tickSize":4,"offset":-4,"domain":false,"labels":false,"title":null}}}},
  {"data":{"name":"blank"},"mark":{"type":"point","opacity":0},
   "encoding":{"x":{"datum":9,"type":"quantitative","scale":{"domain":[7.25,11.75],"nice":false,"zero":false},"axis":{"orient":"top","values":[7.5,8.5,9.5,10.5,11.5],"tickSize":4,"offset":-4,"domain":false,"labels":false,"title":null}},
    "y":{"datum":0,"type":"quantitative","scale":{"domain":[-0.3,0.3],"nice":false,"zero":false},"axis":{"orient":"right","values":[-0.25,-0.15,-0.05,0.05,0.15,0.25],"tickSize":4,"offset":-4,"domain":false,"labels":false,"title":null}}}},
  {"data":{"name":"blank"},"mark":{"type":"point","opacity":0},
   "encoding":{"x":{"datum":9,"type":"quantitative","scale":{"domain":[7.25,11.75],"nice":false,"zero":false},"axis":{"orient":"bottom","values":[8,9,10,11],"ticks":false,"domain":false,"labelPadding":2,"format":"d","title":"log(𝑀∗/M⊙)","titlePadding":3}},
    "y":{"datum":0,"type":"quantitative","scale":{"domain":[-0.3,0.3],"nice":false,"zero":false},"axis":null}}}
 ],
 "resolve":{"axis":{"x":"independent","y":"independent"}}}
]
}
